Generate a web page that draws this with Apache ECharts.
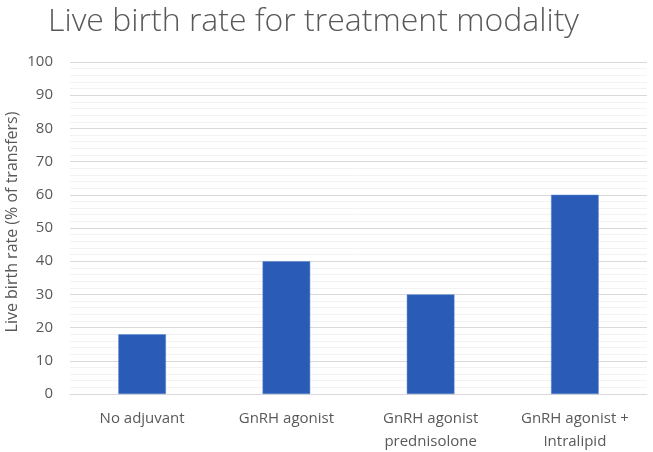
<!DOCTYPE html>
<html><head><meta charset="utf-8">
<script src="https://cdn.jsdelivr.net/npm/echarts@6/dist/echarts.min.js"></script>
<style>html,body{margin:0;padding:0;background:#fff}#c{width:653px;height:452px}</style>
</head><body><div id="c"></div>
<script>
const titleText = 'Live birth rate for treatment modality';
const categories = ['No adjuvant', 'GnRH agonist', 'GnRH agonist\nprednisolone', 'GnRH agonist +\nIntralipid'];
const liveBirthRate = [18, 40, 30, 60];
const yAxisName = 'Live birth rate (% of transfers)';

const chart = echarts.init(document.getElementById('c'), null, {renderer: 'canvas'});
chart.setOption({
  animation: false,
  title: {
    text: titleText, left: 43, top: 1,
    textStyle: {fontFamily: 'Open Sans', fontWeight: 300, fontSize: 32, color: '#595959'}
  },
  grid: {left: 70, right: 6, top: 62, bottom: 58, outerBoundsMode: 'none', containLabel: false},
  xAxis: {
    type: 'category', data: categories,
    axisLine: {lineStyle: {color: '#d9d9d9'}},
    axisTick: {show: false},
    axisLabel: {color: '#595959', fontFamily: 'Open Sans', fontSize: 15, lineHeight: 23, margin: 13}
  },
  yAxis: {
    type: 'value', min: 0, max: 100, interval: 10,
    name: yAxisName, nameLocation: 'middle', nameGap: 50, nameMoveOverlap: false,
    nameTextStyle: {color: '#595959', fontFamily: 'Open Sans', fontSize: 16, padding: [0, 0, 0, 12]},
    axisLabel: {color: '#595959', fontFamily: 'Open Sans', fontSize: 15, margin: 17},
    axisLine: {show: false}, axisTick: {show: false},
    splitLine: {lineStyle: {color: '#d9d9d9', width: 1}},
    minorTick: {show: false, splitNumber: 5},
    minorSplitLine: {show: true, lineStyle: {color: '#f2f2f2', width: 1}}
  },
  series: [{
    type: 'bar', data: liveBirthRate, barWidth: '33%',
    itemStyle: {color: '#2a5cb7', borderColor: '#5b83cc', borderWidth: 0.5}
  }]
});
</script></body></html>
